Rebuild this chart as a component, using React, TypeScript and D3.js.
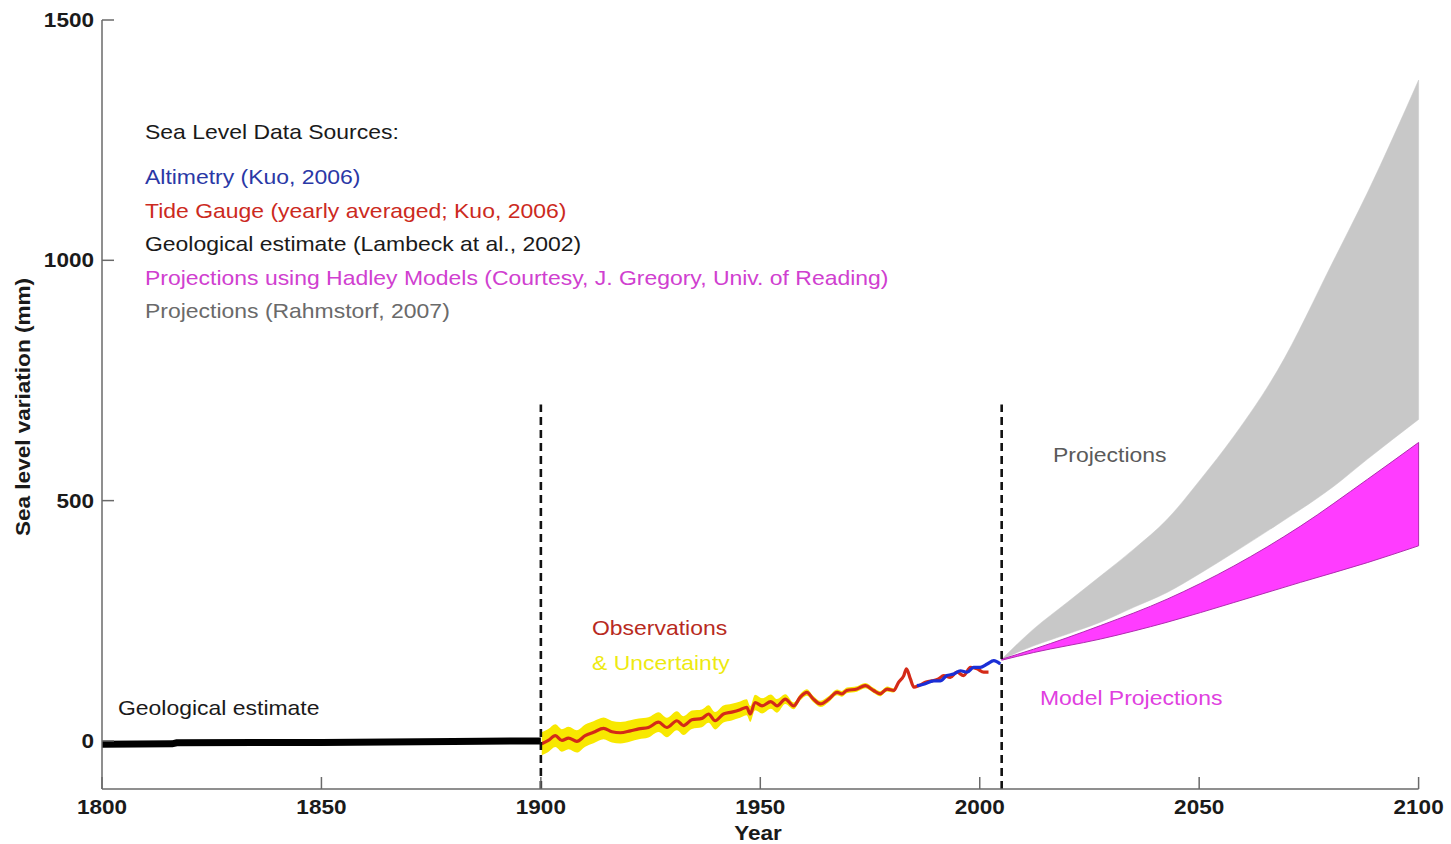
import React from "react";
import * as d3 from "d3";

// ---------- data ----------
const geoYears = [1800, 1816, 1817, 1850, 1880, 1900];
const geoValues = [-7, -6, -4, -3, -1, 0];

const tideYears = [1900.2, 1901.7, 1903.3, 1904.8, 1906.3, 1908.2, 1910.1, 1912, 1914.3, 1916.2, 1918.1, 1920.4, 1922.3, 1924.5, 1926.8, 1928.7, 1931, 1932.5, 1934.4, 1936.7, 1938.2, 1939.7, 1941.6, 1943.5, 1945.4, 1946.9, 1947.7, 1948.8, 1950.4, 1952.4, 1953.8, 1955.7, 1957.6, 1959.1, 1960.6, 1962.1, 1963.7, 1965.6, 1967.5, 1968.6, 1969.7, 1972, 1973.9, 1975.8, 1977.3, 1978.9, 1980.4, 1981.5, 1982.7, 1983.3, 1984.2, 1985, 1986.1, 1987.6, 1989.1, 1990.6, 1991.8, 1993.3, 1994.8, 1996.3, 1997.9, 1999.4, 2000.9, 2002];
const tideValues = [-6, 1, 11, 1, 6, -1, 11, 18, 26, 19, 17, 21, 25, 28, 39, 28, 42, 32, 44, 47, 56, 42, 56, 60, 65, 70, 56, 80, 73, 82, 73, 87, 73, 91, 101, 87, 77, 87, 101, 98, 105, 108, 115, 105, 98, 108, 105, 122, 136, 150, 129, 112, 115, 122, 125, 129, 136, 132, 143, 136, 153, 150, 143, 143];

const uncYears = [1900, 1910, 1920, 1930, 1940, 1950, 1954, 1957, 1970, 1980, 1983];
const uncHalf = [24, 23, 22, 20, 18, 16, 14, 7, 6, 5, 0];

const altYears = [1985.7, 1987.2, 1989.5, 1991, 1992.5, 1994, 1995.6, 1997.1, 1998.6, 2000.1, 2001.7, 2003.2, 2004.7];
const altValues = [115, 118, 125, 125, 136, 139, 146, 143, 153, 153, 160, 167, 160];

const rahmYears = [2005, 2012.3, 2019.9, 2027.5, 2035.1, 2042.7, 2050.3, 2057.9, 2067.8, 2080.7, 2088.3, 2100];
const rahmUpper = [170, 233, 288, 343, 399, 461, 544, 634, 770, 1001, 1140, 1375];
const rahmLower = [170, 198, 222, 247, 278, 309, 349, 392, 450, 530, 586, 669];

const hadYears = [2005, 2012.3, 2027.5, 2042.7, 2057.9, 2073.1, 2088.3, 2100];
const hadUpper = [170, 191, 240, 295, 364, 447, 544, 621];
const hadLower = [168, 184, 212, 247, 288, 330, 371, 406];

const xTicks = [1800, 1850, 1900, 1950, 2000, 2050, 2100];
const yTicks = [0, 500, 1000, 1500];
const dividerYears = [1900, 2005];

const legendLabels = [
  "Sea Level Data Sources:",
  "Altimetry (Kuo, 2006)",
  "Tide Gauge (yearly averaged; Kuo, 2006)",
  "Geological estimate (Lambeck at al., 2002)",
  "Projections using Hadley Models (Courtesy, J. Gregory, Univ. of Reading)",
  "Projections (Rahmstorf, 2007)",
];
const legendColors = ["#1a1a1a", "#2a38a6", "#cc2a1e", "#1a1a1a", "#d040d0", "#6a6a6a"];

// ---------- layout ----------
const W = 1451;
const H = 844;
const FONT = "'Liberation Sans', Arial, Helvetica, sans-serif";

const x = d3.scaleLinear().domain([1800, 2100]).range([102, 1418.6]);
const y = d3.scaleLinear().domain([-100, 1500]).range([789, 20]);

type P = [number, number];
const zip = (a: number[], b: number[]): P[] => a.map((v, i) => [v, b[i]]);

const line = d3.line<P>().x((d) => x(d[0])).y((d) => y(d[1]));
const smoothLine = d3
  .line<P>()
  .x((d) => x(d[0]))
  .y((d) => y(d[1]))
  .curve(d3.curveMonotoneX);

const band = (yrs: number[], lo: number[], hi: number[]) =>
  d3
    .area<number>()
    .x((_, i) => x(yrs[i]))
    .y0((_, i) => y(lo[i]))
    .y1((_, i) => y(hi[i]))
    .curve(d3.curveMonotoneX)(yrs.map((_, i) => i)) || "";

const uncInterp = (yr: number) => {
  for (let i = 0; i < uncYears.length - 1; i++) {
    if (yr >= uncYears[i] && yr <= uncYears[i + 1]) {
      const t = (yr - uncYears[i]) / (uncYears[i + 1] - uncYears[i]);
      return uncHalf[i] + t * (uncHalf[i + 1] - uncHalf[i]);
    }
  }
  return 0;
};

const T = ({
  x: tx,
  y: ty,
  children,
  fill = "#1a1a1a",
  size = 20.5,
  weight = "normal",
  anchor = "start",
  rotate = 0,
  sx = 1.12,
}: any) => (
  <text
    transform={`translate(${tx},${ty}) rotate(${rotate}) scale(${sx},1)`}
    fill={fill}
    fontSize={size}
    fontWeight={weight}
    textAnchor={anchor}
    fontFamily={FONT}
  >
    {children}
  </text>
);

export default function App() {
  const tidePts = zip(tideYears, tideValues);
  const uncIdx = tideYears.filter((yr) => yr <= 1983);
  const uncLo = uncIdx.map((yr, i) => tideValues[i] - uncInterp(yr));
  const uncHi = uncIdx.map((yr, i) => tideValues[i] + uncInterp(yr));

  return (
    <svg
      width={W}
      height={H}
      style={{ position: "absolute", left: 0, top: 0, background: "#fff" }}
    >
      <rect width={W} height={H} fill="#fff" />

      {/* projection bands */}
      <path d={band(rahmYears, rahmLower, rahmUpper)} fill="#c8c8c8" stroke="#c8c8c8" strokeWidth={0.5} />
      <path d={band(hadYears, hadLower, hadUpper)} fill="#ff3cff" stroke="#b02cb0" strokeWidth={1} />

      {/* geological estimate */}
      <path d={line(zip(geoYears, geoValues)) || ""} fill="none" stroke="#000" strokeWidth={7} />

      {/* observation uncertainty */}
      <path d={band(uncIdx, uncLo, uncHi)} fill="#f8e800" />
      {/* tide gauge */}
      <path d={smoothLine(tidePts) || ""} fill="none" stroke="#d42a18" strokeWidth={3.2} strokeLinejoin="round" />
      {/* altimetry */}
      <path d={smoothLine(zip(altYears, altValues)) || ""} fill="none" stroke="#1a2ed6" strokeWidth={3.2} strokeLinejoin="round" />

      {/* dividers */}
      {dividerYears.map((yr) => (
        <line
          key={yr}
          x1={x(yr)}
          x2={x(yr)}
          y1={y(-100)}
          y2={y(700)}
          stroke="#111"
          strokeWidth={2.6}
          strokeDasharray="8,5"
        />
      ))}

      {/* axes */}
      <line x1={x(1800)} x2={x(1800)} y1={y(1500)} y2={y(-100)} stroke="#6a6a6a" strokeWidth={1.5} />
      <line x1={x(1800)} x2={x(2100)} y1={y(-100)} y2={y(-100)} stroke="#6a6a6a" strokeWidth={1.5} />
      {yTicks.map((v) => (
        <g key={v}>
          <line x1={x(1800)} x2={x(1800) + 12} y1={y(v)} y2={y(v)} stroke="#6a6a6a" strokeWidth={1.5} />
          <T x={94} y={y(v) + 7} anchor="end" weight="bold" sx={1.1}>
            {v}
          </T>
        </g>
      ))}
      {xTicks.map((v) => (
        <g key={v}>
          <line x1={x(v)} x2={x(v)} y1={y(-100)} y2={y(-100) - 12} stroke="#6a6a6a" strokeWidth={1.5} />
          <T x={x(v)} y={814} anchor="middle" weight="bold" sx={1.1}>
            {v}
          </T>
        </g>
      ))}
      <T x={758} y={840} anchor="middle" weight="bold" sx={1.1}>
        Year
      </T>
      <T x={30} y={407} anchor="middle" weight="bold" rotate={-90} sx={1.1}>
        Sea level variation (mm)
      </T>

      {/* legend */}
      {legendLabels.map((lab, i) => (
        <T key={i} x={145} y={[139, 184, 218, 251, 285, 318][i]} fill={legendColors[i]}>
          {lab}
        </T>
      ))}

      {/* annotations */}
      <T x={118} y={715}>Geological estimate</T>
      <T x={592} y={635} fill="#b82a1e">Observations</T>
      <T x={592} y={670} fill="#eeea10">& Uncertainty</T>
      <T x={1053} y={462} fill="#5a5a5a">Projections</T>
      <T x={1040} y={705} fill="#e040e0">Model Projections</T>
    </svg>
  );
}
